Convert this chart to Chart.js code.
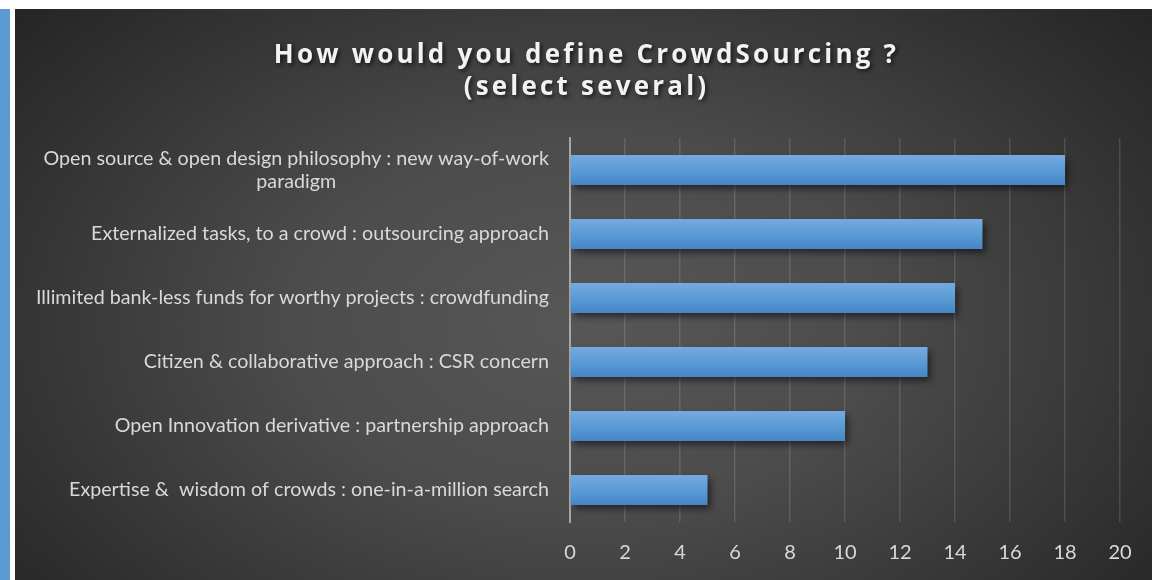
<!DOCTYPE html>
<html><head><meta charset="utf-8">
<script src="https://cdn.jsdelivr.net/npm/chart.js@4"></script>
<style>
html,body{margin:0;padding:0;background:#fff;width:1152px;height:580px;overflow:hidden}
#strip{position:absolute;left:0;top:9px;width:10px;height:571px;background:#5b9bd5}
#wrap{position:absolute;left:15px;top:9px;width:1137px;height:571px;
  background:radial-gradient(ellipse 72% 92% at 50% 55%, #575757 0%, #4c4c4c 35%, #323232 72%, #1f1f1f 100%)}
canvas{display:block}
</style></head><body>
<div id="strip"></div>
<div id="wrap"><canvas id="c" width="1137" height="571"></canvas></div>
<script>
const titleLines = ['How would you define CrowdSourcing ?', '(select several)'];
const categories = [
  ['Open source & open design philosophy : new way-of-work', 'paradigm'],
  'Externalized tasks, to a crowd : outsourcing approach',
  'Illimited bank-less funds for worthy projects : crowdfunding',
  'Citizen & collaborative approach : CSR concern',
  'Open Innovation derivative : partnership approach',
  'Expertise &  wisdom of crowds : one-in-a-million search'
];
const values = [18, 15, 14, 13, 10, 5];
const xMin = 0, xMax = 20, xStep = 2;

const titlePlugin = {
  id: 'customTitle',
  afterDraw(chart) {
    const ctx = chart.ctx;
    ctx.save();
    ctx.font = 'bold 26px "Open Sans"';
    ctx.letterSpacing = '3.2px';
    ctx.fillStyle = '#f2f2f2';
    ctx.textAlign = 'center';
    ctx.textBaseline = 'middle';
    ctx.shadowColor = 'rgba(0,0,0,0.65)';
    ctx.shadowBlur = 4; ctx.shadowOffsetX = 2; ctx.shadowOffsetY = 2;
    titleLines.forEach((t, i) => ctx.fillText(t, chart.width / 2 + 3, 47 + i * 32));
    ctx.restore();
  }
};

const shadowPlugin = {
  id: 'barShadow',
  beforeDatasetsDraw(chart) {
    const c = chart.ctx; c.save();
    c.shadowColor = 'rgba(0,0,0,0.55)'; c.shadowBlur = 7; c.shadowOffsetX = 3; c.shadowOffsetY = 4;
  },
  afterDatasetsDraw(chart) { chart.ctx.restore(); }
};

const centerWrapped = {
  id: 'centerWrapped',
  afterUpdate(chart) {
    const s = chart.scales.y;
    const items = s.getLabelItems();
    items.forEach(it => {
      if (Array.isArray(it.label)) {
        const ctx = chart.ctx; ctx.save(); ctx.font = it.font.string;
        const w = Math.max(...it.label.map(l => ctx.measureText(l).width));
        ctx.restore();
        it.options.translation = [it.options.translation[0] - w / 2, it.options.translation[1]];
        it.options.textAlign = 'center';
      }
    });
  }
};

new Chart(document.getElementById('c'), {
  type: 'bar',
  data: {
    labels: categories,
    datasets: [{
      data: values,
      backgroundColor(ctx) {
        const ch = ctx.chart, y = ch.scales && ch.scales.y;
        if (!y || ctx.dataIndex === undefined) return '#5b9bd5';
        const cy = y.getPixelForValue(ctx.dataIndex);
        if (!isFinite(cy)) return '#5b9bd5';
        const g = ch.ctx.createLinearGradient(0, cy - 15, 0, cy + 15);
        g.addColorStop(0, '#74abe0'); g.addColorStop(0.5, '#5b9bd5'); g.addColorStop(1, '#4585c6');
        return g;
      },
      borderWidth: 0,
      barPercentage: 0.47,
      categoryPercentage: 1
    }]
  },
  options: {
    indexAxis: 'y',
    responsive: false,
    animation: false,
    layout: { padding: { top: 129, right: 32, left: 0, bottom: 0 } },
    plugins: { legend: { display: false }, title: { display: false }, tooltip: { enabled: false } },
    scales: {
      x: {
        min: xMin, max: xMax,
        ticks: { stepSize: xStep, color: '#d9d9d9', font: { family: 'Lato', size: 20, lineHeight: 1.2 }, padding: 19 },
        grid: { color: 'rgba(255,255,255,0.13)', lineWidth: 1.5, drawTicks: false },
        border: { display: false },
        afterFit(s) { s.height = 58; }
      },
      y: {
        ticks: { color: '#d9d9d9', font: { family: 'Lato', size: 19.7, lineHeight: 1.18 }, padding: 21 },
        grid: { display: false, drawTicks: false },
        border: { display: true, color: '#a6a6a6', width: 2 },
        afterFit(s) { s.width = 555; }
      }
    }
  },
  plugins: [shadowPlugin, centerWrapped, titlePlugin]
});
</script>
</body></html>
